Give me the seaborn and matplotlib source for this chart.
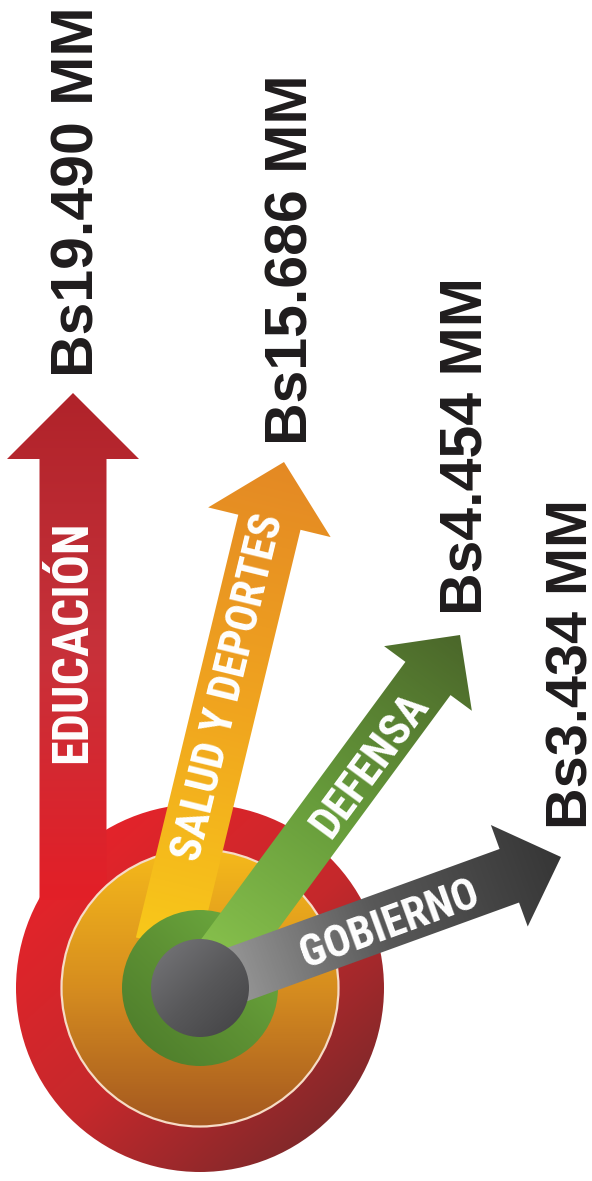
import numpy as np
import matplotlib
matplotlib.use('Agg')
import matplotlib.pyplot as plt
import seaborn as sns
from matplotlib.patches import Polygon, Circle
from matplotlib import font_manager

# data
sectors = ['EDUCACIÓN', 'SALUD Y DEPORTES', 'DEFENSA', 'GOBIERNO']
amounts = [19490, 15686, 4454, 3434]   # millones de Bs
amount_labels = ['Bs19.490 MM', 'Bs15.686 MM', 'Bs4.454 MM', 'Bs3.434 MM']

# layout (pixels, y grows downward)
W, H = 592, 1181
center = (200, 988)
arrows = [
    dict(start=(73, 900), tip=(73, 393), w=67, hw=132, hl=66,
         colors=['#e31f27', '#c7313a', '#b0232a'], z=2),
    dict(start=(167, 945), tip=(284, 462), w=64, hw=126, hl=62,
         colors=['#f8c81a', '#f0a41f', '#e48924'], z=4),
    dict(start=center, tip=(460, 635), w=56, hw=109, hl=54,
         colors=['#8cc64f', '#679c3b', '#4b672a'], z=6),
    dict(start=center, tip=(561, 857), w=57, hw=108, hl=55,
         colors=['#a3a3a3', '#585858', '#363636'], z=7),
]
sector_text_pos = [(73, 642), (229, 688), (371, 765), (390, 925)]
sector_font = [36, 31.5, 32, 31.5]
amount_pos = [(93, 377), (307, 445), (481, 615), (587, 829)]
amount_font = [42.5, 42.5, 42.5, 41.5]

sns.set_theme(style='white')
names = {f.name for f in font_manager.fontManager.ttflist}
narrow, shrink = 'Liberation Sans', 0.84
for fam, k in [('Liberation Sans Narrow', 1.0), ('Roboto Condensed', 1.0),
               ('Open Sans Condensed', 1.0), ('DejaVu Sans Condensed', 0.9)]:
    if fam in names:
        narrow, shrink = fam, k
        break

fig = plt.figure(figsize=(W / 100, H / 100), dpi=100)
ax = fig.add_axes([0, 0, 1, 1])
ax.set_facecolor('white')

yy, xx = np.mgrid[0:H, 0:W] + 0.5


def grad_fill(patch, p0, p1, colors, z):
    patch.set_facecolor('none')
    patch.set_edgecolor('none')
    ax.add_patch(patch)
    d = np.array(p1, float) - np.array(p0, float)
    t = ((xx - p0[0]) * d[0] + (yy - p0[1]) * d[1]) / (d @ d)
    cmap = sns.blend_palette(colors, as_cmap=True)
    im = ax.imshow(np.clip(t, 0, 1), cmap=cmap, vmin=0, vmax=1,
                   extent=(0, W, H, 0), zorder=z, interpolation='bilinear')
    im.set_clip_path(patch)


def arrow_poly(start, tip, w, hw, hl):
    s, t = np.array(start, float), np.array(tip, float)
    u = (t - s) / np.linalg.norm(t - s)
    n = np.array([-u[1], u[0]])
    b = t - u * hl
    pts = [s + n * w / 2, b + n * w / 2, b + n * hw / 2, t,
           b - n * hw / 2, b - n * w / 2, s - n * w / 2]
    return Polygon(pts, closed=True)


# circles
grad_fill(Circle(center, 184), (70, 840), (350, 1150),
          ['#e6232a', '#c5292c', '#74282a'], 1)
grad_fill(Circle(center, 138), (200, 850), (200, 1126),
          ['#f5b91b', '#d68d1f', '#a4581f'], 3)
ax.add_patch(Circle(center, 138.5, facecolor='none', edgecolor='#f6dcc6',
                    lw=1.6, zorder=3.5))
grad_fill(Circle(center, 78), (135, 1060), (270, 915),
          ['#4d7c2b', '#5e9234', '#6fae40'], 5)
grad_fill(Circle(center, 49), (165, 950), (240, 1030),
          ['#707073', '#58585a', '#454547'], 8)

# arrows
for a in arrows:
    grad_fill(arrow_poly(a['start'], a['tip'], a['w'], a['hw'], a['hl']),
              a['start'], a['tip'], a['colors'], a['z'])

# sector names on the arrows
for name, pos, a, fs in zip(sectors, sector_text_pos, arrows, sector_font):
    dx = a['tip'][0] - a['start'][0]
    dy = a['start'][1] - a['tip'][1]
    ang = np.degrees(np.arctan2(dy, dx))
    ax.text(pos[0], pos[1], name, rotation=ang, rotation_mode='anchor',
            ha='center', va='center', color='white', fontsize=fs * shrink,
            family=narrow, fontweight='bold', zorder=10)

# amounts
for lab, pos, fs in zip(amount_labels, amount_pos, amount_font):
    ax.text(pos[0], pos[1], lab, rotation=90, rotation_mode='anchor',
            ha='left', va='baseline', color='#1f1c1d', fontsize=fs,
            family='Liberation Sans', fontweight='bold', zorder=10)

ax.set_xlim(0, W)
ax.set_ylim(H, 0)
ax.set_aspect('equal')
ax.axis('off')
fig.savefig('out.png', dpi=100, facecolor='white')
